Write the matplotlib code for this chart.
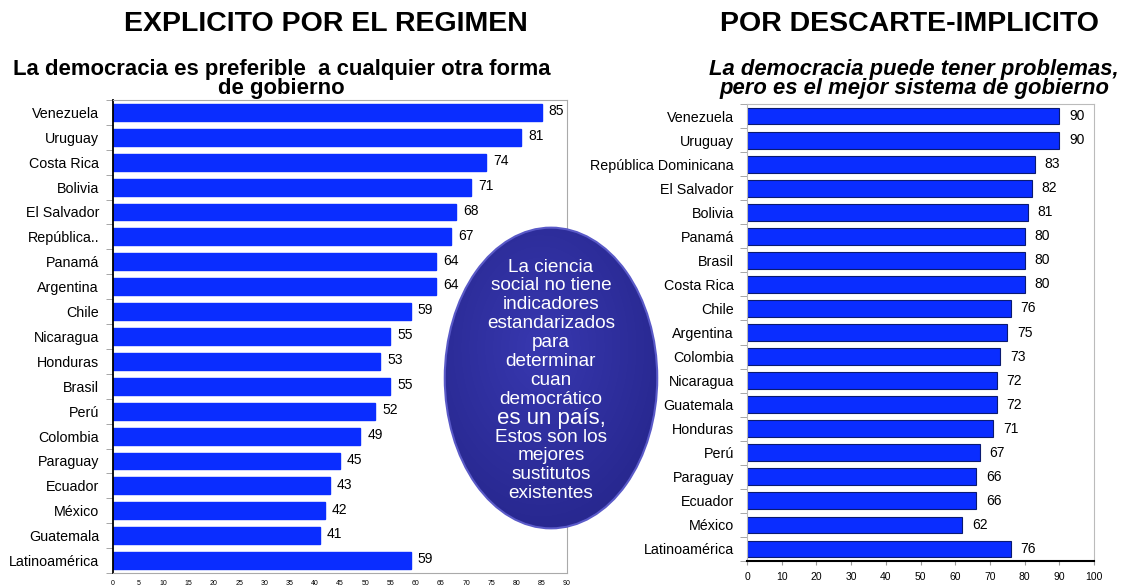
import matplotlib.pyplot as plt
from matplotlib.patches import Ellipse
from matplotlib import font_manager
import numpy as np

plt.rcParams['font.family'] = ['Liberation Sans', 'DejaVu Sans']

# datos - izquierda
paises_izq = ['Venezuela', 'Uruguay', 'Costa Rica', 'Bolivia', 'El Salvador', 'República..',
              'Panamá', 'Argentina', 'Chile', 'Nicaragua', 'Honduras', 'Brasil', 'Perú',
              'Colombia', 'Paraguay', 'Ecuador', 'México', 'Guatemala', 'Latinoamérica']
valores_izq = [85, 81, 74, 71, 68, 67, 64, 64, 59, 55, 53, 55, 52, 49, 45, 43, 42, 41, 59]

# datos - derecha
paises_der = ['Venezuela', 'Uruguay', 'República Dominicana', 'El Salvador', 'Bolivia', 'Panamá',
              'Brasil', 'Costa Rica', 'Chile', 'Argentina', 'Colombia', 'Nicaragua', 'Guatemala',
              'Honduras', 'Perú', 'Paraguay', 'Ecuador', 'México', 'Latinoamérica']
valores_der = [90, 90, 83, 82, 81, 80, 80, 80, 76, 75, 73, 72, 72, 71, 67, 66, 66, 62, 76]

ticks_izq = list(range(0, 95, 5))
ticks_der = list(range(0, 110, 10))

texto_elipse = ['La ciencia', 'social no tiene', 'indicadores', 'estandarizados', 'para',
                'determinar', 'cuan', 'democrático', 'es un país,', 'Estos son los',
                'mejores', 'sustitutos', 'existentes']


# buscar una familia que tenga negrita de verdad
def familia_bold():
    for fam in ['Liberation Sans', 'Arimo', 'Roboto', 'Noto Sans', 'Open Sans', 'Lato', 'Inter']:
        try:
            f = font_manager.findfont(font_manager.FontProperties(family=fam, weight='bold'),
                                      fallback_to_default=False)
        except Exception:
            continue
        if 'bold' in f.lower():
            return fam
    return 'DejaVu Sans'


fam_b = familia_bold()

fig = plt.figure(figsize=(11.23, 5.88), dpi=100)

# ─── grafico izquierdo ───
ax1 = fig.add_axes([0.1006, 0.0255, 0.4042, 0.8045])
y1 = np.arange(len(paises_izq))
ax1.barh(y1, valores_izq, height=0.68, color='#0a2dff', edgecolor='#0a2dff')
for y, v in zip(y1, valores_izq):
    ax1.text(v + 1.4, y - 0.05, str(v), va='center', ha='left', fontsize=10)
ax1.set_ylim(len(paises_izq) - 0.5, -0.5)
ax1.set_xlim(0, 90)
ax1.set_yticks(y1)
ax1.set_yticklabels(paises_izq, fontsize=10.3)
ax1.set_yticks(np.arange(-0.5, len(paises_izq), 1), minor=True)
ax1.tick_params(axis='y', which='major', length=0, pad=10)
ax1.tick_params(axis='y', which='minor', length=5, color='#999999')
ax1.set_xticks(ticks_izq)
ax1.set_xticklabels([str(t) for t in ticks_izq], fontsize=5)
ax1.tick_params(axis='x', length=0, pad=5)
for s in ['top', 'right', 'bottom']:
    ax1.spines[s].set_color('#aaaaaa')
ax1.spines['left'].set_color('black')
ax1.spines['left'].set_linewidth(1.3)

# ─── grafico derecho ───
ax2 = fig.add_axes([0.6652, 0.0459, 0.309, 0.7772])
y2 = np.arange(len(paises_der))
ax2.barh(y2, valores_der, height=0.7, color='#0a2dff', edgecolor='#0a1a70', linewidth=0.8)
for y, v in zip(y2, valores_der):
    ax2.text(v + 2.8, y, str(v), va='center', ha='left', fontsize=10)
ax2.set_ylim(len(paises_der) - 0.5, -0.5)
ax2.set_xlim(0, 100)
ax2.set_yticks(y2)
ax2.set_yticklabels(paises_der, fontsize=10.3)
ax2.set_yticks(np.arange(-0.5, len(paises_der), 1), minor=True)
ax2.tick_params(axis='y', which='major', length=0, pad=9.5)
ax2.tick_params(axis='y', which='minor', length=5, color='#999999')
ax2.set_xticks(ticks_der)
ax2.set_xticklabels([str(t) for t in ticks_der], fontsize=7.5)
ax2.tick_params(axis='x', length=3, color='#999999', pad=5)
for s in ['top', 'right']:
    ax2.spines[s].set_color('#bbbbbb')
ax2.spines['left'].set_color('#bbbbbb')
ax2.spines['bottom'].set_color('black')
ax2.spines['bottom'].set_linewidth(1.5)

# ─── titulos ───
fig.text(0.29, 0.96, 'EXPLICITO POR EL REGIMEN', ha='center', va='center',
         fontsize=20.5, fontweight='bold', family=fam_b)
fig.text(0.81, 0.96, 'POR DESCARTE-IMPLICITO', ha='center', va='center',
         fontsize=20.5, fontweight='bold', family=fam_b)
fig.text(0.2507, 0.866, 'La democracia es preferible  a cualquier otra forma\nde gobierno',
         ha='center', va='center', fontsize=15.9, fontweight='bold', linespacing=0.9,
         family=fam_b)
fig.text(0.814, 0.866, 'La democracia puede tener problemas,\npero es el mejor sistema de gobierno',
         ha='center', va='center', fontsize=15.8, fontweight='bold', style='italic',
         linespacing=0.9, family=fam_b)

# ─── elipse con degradado ───
cx, cy, ew, eh = 551 / 1123, 1 - 378 / 588, 214 / 1123, 307 / 588
ax_e = fig.add_axes([cx - ew / 2 - 0.005, cy - eh / 2 - 0.01, ew + 0.01, eh + 0.02])
ax_e.set_xlim(-0.03, 1.03)
ax_e.set_ylim(-0.03, 1.03)
ax_e.axis('off')
forma = Ellipse((0.5, 0.5), 1, 1, facecolor='none', edgecolor='#5a5ac8', linewidth=1.5)
ax_e.add_patch(forma)
gx, gy = np.meshgrid(np.linspace(0, 1, 200), np.linspace(0, 1, 200))
r = np.sqrt(((gx - 0.45) / 0.6) ** 2 + ((gy - 0.6) / 0.6) ** 2)
c1 = np.array([0x38, 0x38, 0xb0]) / 255
c2 = np.array([0x28, 0x28, 0x90]) / 255
t = np.clip(r, 0, 1)[..., None]
img = c1 * (1 - t) + c2 * t
im = ax_e.imshow(img, extent=[0, 1, 0, 1], origin='lower', aspect='auto')
im.set_clip_path(forma)

y0 = 1 - 267 / 588
paso = 18.9 / 588
for i, linea in enumerate(texto_elipse):
    fig.text(cx, y0 - i * paso, linea, ha='center', va='center', color='white',
             fontsize=16 if linea == 'es un país,' else 13.7, zorder=6)

fig.savefig('out.png', dpi=100)
